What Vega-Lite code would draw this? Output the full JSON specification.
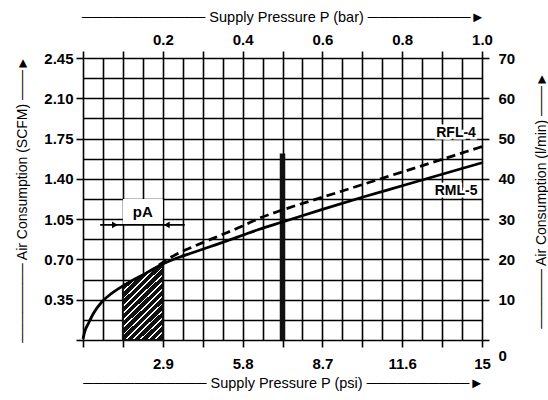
{
  "$schema": "https://vega.github.io/schema/vega-lite/v6.json",
  "width": 399,
  "height": 282,
  "autosize": {"type": "none"},
  "padding": {"left": 83, "top": 58, "right": 66, "bottom": 60},
  "background": "white",
  "config": {
    "view": {"stroke": null},
    "font": "Liberation Sans",
    "axis": {"labelFont": "Liberation Sans", "titleFont": "Liberation Sans", "labelColor": "black", "titleColor": "black", "tickColor": "black", "titleFontWeight": "normal", "labelFontWeight": "bold"}
  },
  "datasets": {
    "rml5": [
      {"p": 0, "q": 0.01}, {"p": 0.005, "q": 0.08}, {"p": 0.013, "q": 0.14}, {"p": 0.026, "q": 0.23},
      {"p": 0.047, "q": 0.33}, {"p": 0.068, "q": 0.395}, {"p": 0.1, "q": 0.47}, {"p": 0.125, "q": 0.52},
      {"p": 0.15, "q": 0.565}, {"p": 0.175, "q": 0.615}, {"p": 0.2, "q": 0.66}, {"p": 0.234, "q": 0.71},
      {"p": 0.276, "q": 0.76}, {"p": 0.318, "q": 0.81}, {"p": 0.36, "q": 0.86}, {"p": 0.4, "q": 0.91},
      {"p": 0.44, "q": 0.96}, {"p": 0.5, "q": 1.025}, {"p": 0.6, "q": 1.135}, {"p": 0.7, "q": 1.24},
      {"p": 0.8, "q": 1.34}, {"p": 0.9, "q": 1.44}, {"p": 1.0, "q": 1.54}
    ],
    "rfl4": [
      {"p": 0.19, "q": 0.65}, {"p": 0.234, "q": 0.745}, {"p": 0.276, "q": 0.81}, {"p": 0.318, "q": 0.872},
      {"p": 0.36, "q": 0.932}, {"p": 0.4, "q": 0.99}, {"p": 0.44, "q": 1.055}, {"p": 0.5, "q": 1.13},
      {"p": 0.6, "q": 1.24}, {"p": 0.7, "q": 1.35}, {"p": 0.8, "q": 1.46}, {"p": 0.9, "q": 1.57}, {"p": 1.0, "q": 1.68}
    ],
    "hatch": [
      {"p": 0.1, "q": 0.47}, {"p": 0.125, "q": 0.52}, {"p": 0.15, "q": 0.565}, {"p": 0.175, "q": 0.615}, {"p": 0.2, "q": 0.66}
    ],
    "labels": [
      {"t": "RFL-4", "p": 0.935, "q": 1.8},
      {"t": "RML-5", "p": 0.935, "q": 1.295}
    ],
    "pa": [{"t": "pA", "p": 0.15, "q": 1.11, "p1": 0.1, "p2": 0.2, "q1": 1.005, "q2": 1.225}],
    "bar": [{"p": 0.5, "q": 0, "q2": 1.62}],
    "arrow": [{"p": 0.043, "p2": 0.255, "q": 1.0}],
    "heads": [{"p": 0.08, "q": 1.0, "d": "right"}, {"p": 0.21, "q": 1.0, "d": "left"}]
  },
  "layer": [
    {
      "data": {"name": "hatch"},
      "mark": {
        "type": "area",
        "fill": {
          "gradient": "linear", "x1": 0, "y1": 0, "x2": 0.614, "y2": 1.198,
          "stops": [
            {"offset": 0, "color": "#111"}, {"offset": 0.047, "color": "#111"}, {"offset": 0.047, "color": "#fff"}, {"offset": 0.0625, "color": "#fff"},
            {"offset": 0.0625, "color": "#111"}, {"offset": 0.1095, "color": "#111"}, {"offset": 0.1095, "color": "#fff"}, {"offset": 0.125, "color": "#fff"},
            {"offset": 0.125, "color": "#111"}, {"offset": 0.172, "color": "#111"}, {"offset": 0.172, "color": "#fff"}, {"offset": 0.1875, "color": "#fff"},
            {"offset": 0.1875, "color": "#111"}, {"offset": 0.2345, "color": "#111"}, {"offset": 0.2345, "color": "#fff"}, {"offset": 0.25, "color": "#fff"},
            {"offset": 0.25, "color": "#111"}, {"offset": 0.297, "color": "#111"}, {"offset": 0.297, "color": "#fff"}, {"offset": 0.3125, "color": "#fff"},
            {"offset": 0.3125, "color": "#111"}, {"offset": 0.3595, "color": "#111"}, {"offset": 0.3595, "color": "#fff"}, {"offset": 0.375, "color": "#fff"},
            {"offset": 0.375, "color": "#111"}, {"offset": 0.422, "color": "#111"}, {"offset": 0.422, "color": "#fff"}, {"offset": 0.4375, "color": "#fff"},
            {"offset": 0.4375, "color": "#111"}, {"offset": 0.4845, "color": "#111"}, {"offset": 0.4845, "color": "#fff"}, {"offset": 0.5, "color": "#fff"},
            {"offset": 0.5, "color": "#111"}, {"offset": 0.547, "color": "#111"}, {"offset": 0.547, "color": "#fff"}, {"offset": 0.5625, "color": "#fff"},
            {"offset": 0.5625, "color": "#111"}, {"offset": 0.6095, "color": "#111"}, {"offset": 0.6095, "color": "#fff"}, {"offset": 0.625, "color": "#fff"},
            {"offset": 0.625, "color": "#111"}, {"offset": 0.672, "color": "#111"}, {"offset": 0.672, "color": "#fff"}, {"offset": 0.6875, "color": "#fff"},
            {"offset": 0.6875, "color": "#111"}, {"offset": 0.7345, "color": "#111"}, {"offset": 0.7345, "color": "#fff"}, {"offset": 0.75, "color": "#fff"},
            {"offset": 0.75, "color": "#111"}, {"offset": 0.797, "color": "#111"}, {"offset": 0.797, "color": "#fff"}, {"offset": 0.8125, "color": "#fff"},
            {"offset": 0.8125, "color": "#111"}, {"offset": 0.8595, "color": "#111"}, {"offset": 0.8595, "color": "#fff"}, {"offset": 0.875, "color": "#fff"},
            {"offset": 0.875, "color": "#111"}, {"offset": 0.922, "color": "#111"}, {"offset": 0.922, "color": "#fff"}, {"offset": 0.9375, "color": "#fff"},
            {"offset": 0.9375, "color": "#111"}, {"offset": 0.9845, "color": "#111"}, {"offset": 0.9845, "color": "#fff"}, {"offset": 1, "color": "#fff"}
          ]
        },
        "stroke": "#111",
        "strokeWidth": 2
      },
      "encoding": {
        "x": {
          "field": "p", "type": "quantitative",
          "scale": {"domain": [0, 1], "nice": false, "zero": false},
          "axis": {
            "orient": "bottom",
            "values": [0, 0.05, 0.1, 0.15, 0.2, 0.25, 0.3, 0.35, 0.4, 0.45, 0.5, 0.55, 0.6, 0.65, 0.7, 0.75, 0.8, 0.85, 0.9, 0.95, 1],
            "grid": true, "gridColor": "black", "gridWidth": 1.6, "gridOpacity": 1,
            "ticks": false, "labels": false, "domain": false, "title": null
          }
        },
        "y": {
          "field": "q", "type": "quantitative",
          "scale": {"domain": [0, 2.45], "nice": false, "zero": false},
          "axis": {
            "orient": "left",
            "values": [0, 0.175, 0.35, 0.525, 0.7, 0.875, 1.05, 1.225, 1.4, 1.575, 1.75, 1.925, 2.1, 2.275, 2.45],
            "grid": true, "gridColor": "black", "gridWidth": 1.6, "gridOpacity": 1,
            "ticks": false, "labels": false, "domain": false, "title": null
          }
        }
      }
    },
    {
      "data": {"name": "pa"},
      "mark": {"type": "rect", "color": "white"},
      "encoding": {
        "x": {"field": "p1", "type": "quantitative", "scale": {"domain": [0, 1], "nice": false, "zero": false}, "axis": null},
        "x2": {"field": "p2"},
        "y": {"field": "q1", "type": "quantitative", "scale": {"domain": [0, 2.45], "nice": false, "zero": false}, "axis": null},
        "y2": {"field": "q2"}
      }
    },
    {
      "data": {"name": "bar"},
      "mark": {"type": "rule", "color": "#111", "strokeWidth": 5.5},
      "encoding": {
        "x": {"field": "p", "type": "quantitative", "scale": {"domain": [0, 1], "nice": false, "zero": false}, "axis": null},
        "y": {"field": "q", "type": "quantitative", "scale": {"domain": [0, 2.45], "nice": false, "zero": false}, "axis": null},
        "y2": {"field": "q2"}
      }
    },
    {
      "data": {"name": "rml5"},
      "mark": {"type": "line", "color": "black", "strokeWidth": 2.8, "interpolate": "monotone"},
      "encoding": {
        "x": {
          "field": "p", "type": "quantitative",
          "scale": {"domain": [0, 1], "nice": false, "zero": false},
          "axis": {
            "orient": "bottom",
            "values": [0, 0.1, 0.2, 0.3, 0.4, 0.5, 0.6, 0.7, 0.8, 0.9, 1],
            "grid": false, "domain": false, "ticks": true, "tickSize": 7, "tickWidth": 1.6,
            "labelExpr": "datum.value==0.2?'2.9':datum.value==0.4?'5.8':datum.value==0.6?'8.7':datum.value==0.8?'11.6':datum.value==1?'15':''",
            "labelFontSize": 15, "labelPadding": 9, "labelFlush": false, "labelOverlap": false,
            "title": "────────────  Supply Pressure P (psi)  ──────────►",
            "titleFontSize": 14.5, "titleX": 200, "titleY": 43, "titleAlign": "center", "titleBaseline": "middle"
          }
        },
        "y": {
          "field": "q", "type": "quantitative",
          "scale": {"domain": [0, 2.45], "nice": false, "zero": false},
          "axis": {
            "orient": "left",
            "values": [0, 0.35, 0.7, 1.05, 1.4, 1.75, 2.1, 2.45],
            "grid": false, "domain": false, "ticks": true, "tickSize": 7, "tickWidth": 1.6,
            "labelExpr": "datum.value==0?'':format(datum.value,'.2f')",
            "labelFontSize": 15, "labelPadding": 3, "labelOverlap": false, "labelFlush": false,
            "title": "────────  Air Consumption (SCFM)  ───►",
            "titleFontSize": 14, "titleX": -61, "titleY": 141, "titleAngle": 270, "titleAlign": "center", "titleBaseline": "middle"
          }
        }
      }
    },
    {
      "data": {"name": "rfl4"},
      "mark": {"type": "line", "color": "black", "strokeWidth": 2.8, "strokeDash": [9, 5], "interpolate": "monotone"},
      "encoding": {
        "x": {
          "field": "p", "type": "quantitative",
          "scale": {"domain": [0, 1], "nice": false, "zero": false},
          "axis": {
            "orient": "top",
            "values": [0, 0.1, 0.2, 0.3, 0.4, 0.5, 0.6, 0.7, 0.8, 0.9, 1],
            "grid": false, "domain": false, "ticks": true, "tickSize": 7, "tickWidth": 1.6,
            "labelExpr": "indexof([0.2,0.4,0.6,0.8,1],datum.value)>=0?format(datum.value,'.1f'):''",
            "labelFontSize": 15, "labelPadding": 4, "labelFlush": false, "labelOverlap": false,
            "title": "────────────  Supply Pressure P (bar)  ──────────►",
            "titleFontSize": 14.5, "titleX": 200, "titleY": -41, "titleAlign": "center", "titleBaseline": "middle"
          }
        },
        "y": {"field": "q", "type": "quantitative", "scale": {"domain": [0, 2.45], "nice": false, "zero": false}, "axis": null}
      }
    },
    {
      "data": {"name": "labels"},
      "mark": {"type": "text", "font": "Liberation Sans", "fontSize": 14, "fontWeight": "bold", "stroke": "white", "strokeWidth": 5, "fill": "white"},
      "encoding": {
        "x": {"field": "p", "type": "quantitative", "scale": {"domain": [0, 1], "nice": false, "zero": false}, "axis": null},
        "y": {"field": "q", "type": "quantitative", "scale": {"domain": [0, 2.45], "nice": false, "zero": false}, "axis": null},
        "text": {"field": "t"}
      }
    },
    {
      "data": {"name": "labels"},
      "mark": {"type": "text", "font": "Liberation Sans", "fontSize": 14, "fontWeight": "bold", "color": "black"},
      "encoding": {
        "x": {"field": "p", "type": "quantitative", "scale": {"domain": [0, 1], "nice": false, "zero": false}, "axis": null},
        "y": {"field": "q", "type": "quantitative", "scale": {"domain": [0, 2.45], "nice": false, "zero": false}, "axis": null},
        "text": {"field": "t"}
      }
    },
    {
      "data": {"name": "pa"},
      "mark": {"type": "text", "font": "Liberation Sans", "fontSize": 15, "fontWeight": "bold", "color": "black"},
      "encoding": {
        "x": {"field": "p", "type": "quantitative", "scale": {"domain": [0, 1], "nice": false, "zero": false}, "axis": null},
        "y": {"field": "q", "type": "quantitative", "scale": {"domain": [0, 2.45], "nice": false, "zero": false}, "axis": null},
        "text": {"field": "t"}
      }
    },
    {
      "data": {"name": "arrow"},
      "mark": {"type": "rule", "color": "black", "strokeWidth": 1.6},
      "encoding": {
        "x": {"field": "p", "type": "quantitative", "scale": {"domain": [0, 1], "nice": false, "zero": false}, "axis": null},
        "x2": {"field": "p2"},
        "y": {"field": "q", "type": "quantitative", "scale": {"domain": [0, 2.45], "nice": false, "zero": false}, "axis": null}
      }
    },
    {
      "data": {"name": "heads"},
      "mark": {"type": "point", "filled": true, "color": "black", "size": 45, "opacity": 1},
      "encoding": {
        "x": {"field": "p", "type": "quantitative", "scale": {"domain": [0, 1], "nice": false, "zero": false}, "axis": null},
        "y": {"field": "q", "type": "quantitative", "scale": {"domain": [0, 2.45], "nice": false, "zero": false}, "axis": null},
        "shape": {"field": "d", "type": "nominal", "scale": {"domain": ["right", "left"], "range": ["triangle-right", "triangle-left"]}, "legend": null}
      }
    },
    {
      "mark": {"type": "rule", "color": "black", "strokeWidth": 1.6},
      "encoding": {
        "y": {
          "datum": 0, "type": "quantitative",
          "scale": {"domain": [0, 70], "nice": false, "zero": false},
          "axis": {
            "orient": "right",
            "values": [0, 10, 20, 30, 40, 50, 60, 70],
            "grid": false, "domain": false, "ticks": true, "tickSize": 7, "tickWidth": 1.6,
            "labelFontSize": 15, "labelPadding": 9, "labelOverlap": false, "labelFlush": false,
            "labelOffset": {"condition": {"test": "datum.value === 0", "value": 15}, "value": 0},
            "title": "──────  Air Consumption (l/min)  ───►",
            "titleFontSize": 14, "titleX": 59, "titleY": 142, "titleAngle": 270, "titleAlign": "center", "titleBaseline": "middle"
          }
        }
      }
    }
  ],
  "resolve": {"scale": {"y": "independent"}, "axis": {"x": "independent", "y": "independent"}}
}
